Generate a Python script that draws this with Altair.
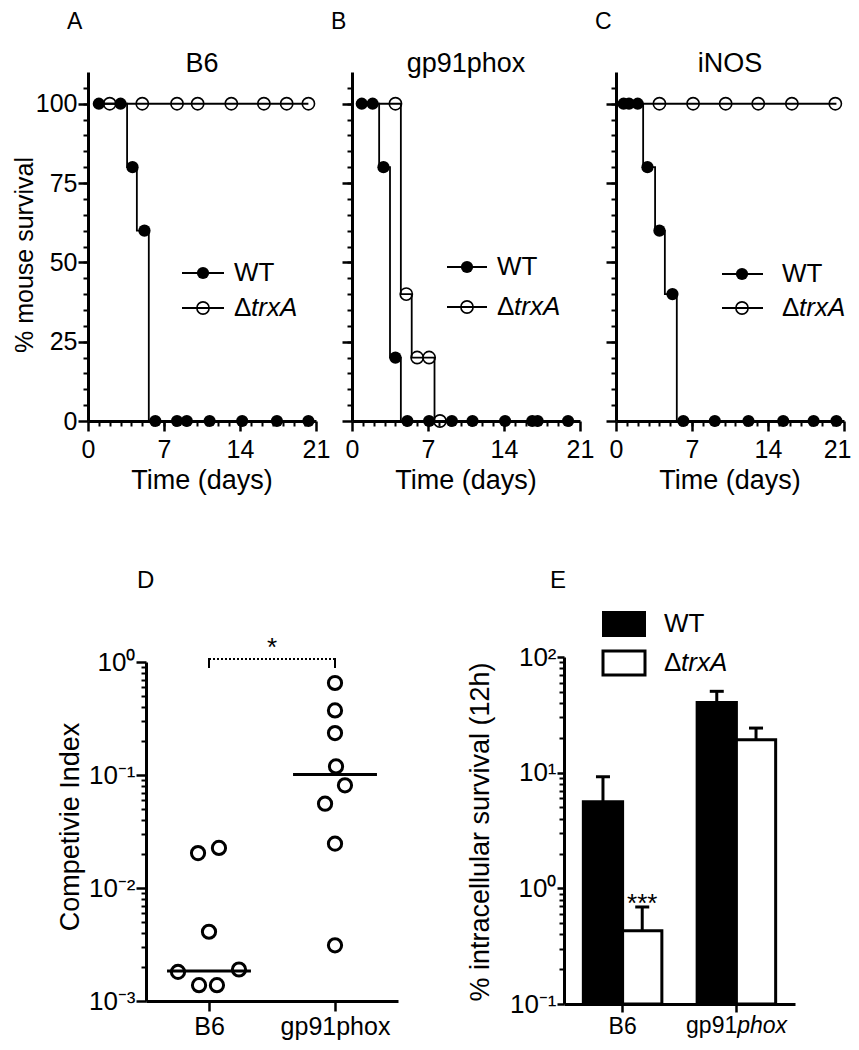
import json
import altair as alt
import pandas as pd

FONT = "Liberation Sans"
W, H = 756, 916

# ---------------- Panels A-C : survival curves (day, % survival) ----------------
a_wt_step_day = [1.0, 3.6, 4.5, 5.6, 20.3]
a_wt_step_surv = [100, 80, 60, 0, 0]
a_wt_day = [1.0, 3.0, 4.1, 5.2, 6.2, 8.2, 9.1, 11.2, 14.2, 17.4, 20.3]
a_wt_surv = [100, 100, 80, 60, 0, 0, 0, 0, 0, 0, 0]
a_ko_step_day = [1.0, 20.3]
a_ko_step_surv = [100, 100]
a_ko_day = [2.0, 5.0, 8.2, 10.1, 13.2, 16.2, 18.3, 20.3]
a_ko_surv = [100, 100, 100, 100, 100, 100, 100, 100]

b_wt_step_day = [0.9, 2.5, 3.5, 4.5, 19.9]
b_wt_step_surv = [100, 80, 20, 0, 0]
b_wt_day = [0.9, 1.9, 2.9, 4.0, 5.1, 7.1, 9.2, 11.1, 14.1, 16.6, 17.1, 19.9]
b_wt_surv = [100, 100, 80, 20, 0, 0, 0, 0, 0, 0, 0, 0]
b_ko_step_day = [1.0, 4.5, 5.5, 7.6, 8.1]
b_ko_step_surv = [100, 40, 20, 0, 0]
b_ko_day = [4.0, 5.0, 6.0, 7.1, 8.1]
b_ko_surv = [100, 40, 20, 20, 0]

c_wt_step_day = [0.7, 2.5, 3.6, 4.5, 5.6, 20.3]
c_wt_step_surv = [100, 80, 60, 40, 0, 0]
c_wt_day = [0.7, 1.2, 2.0, 2.9, 4.0, 5.2, 6.2, 9.1, 12.2, 15.4, 18.2, 20.3]
c_wt_surv = [100, 100, 100, 80, 60, 40, 0, 0, 0, 0, 0, 0]
c_ko_step_day = [0.7, 20.3]
c_ko_step_surv = [100, 100]
c_ko_day = [4.0, 7.1, 10.1, 13.1, 16.2, 20.2]
c_ko_surv = [100, 100, 100, 100, 100, 100]

km_titles = ["B6", "gp91phox", "iNOS"]
km_x_ticks = [0, 7, 14, 21]
km_y_ticks = [0, 25, 50, 75, 100]

# ---------------- Panel D : competitive index ----------------
d_groups = ["B6", "gp91phox"]
d_b6_ci = [0.0204, 0.0226, 0.0041, 0.00181, 0.0019, 0.00138, 0.00138]
d_b6_jitter = [-0.087, 0.079, 0.0, -0.246, 0.238, -0.079, 0.063]
d_gp_ci = [0.652, 0.373, 0.235, 0.119, 0.081, 0.0557, 0.0247, 0.00311]
d_gp_jitter = [0.0, 0.0, 0.0, 0.008, 0.079, -0.079, 0.0, 0.0]
d_median = [0.00184, 0.101]

# ---------------- Panel E : intracellular survival ----------------
e_cats = ["B6", "gp91phox"]
e_strains = ["WT", "ΔtrxA"]
e_group = ["B6", "B6", "gp91phox", "gp91phox"]
e_strain = ["WT", "ΔtrxA", "WT", "ΔtrxA"]
e_mean = [5.6, 0.43, 40.5, 19.3]
e_upper = [9.2, 0.69, 50.5, 24.3]
e_sig = ["", "***", "", ""]

ONE = pd.DataFrame({"k": [0]})


def axis(orient, offset, values, major=True, labels=False, size=25, expr=None,
         flush=False, flush_offset=0, pad=3, tick=10):
    kw = dict(orient=orient, offset=offset, values=values, title=None, grid=False,
              domain=major, domainColor="black", domainWidth=3,
              ticks=True, tickColor="black", tickWidth=2.5 if major else 2,
              tickSize=tick if major else 5,
              labels=labels, labelFont=FONT, labelFontSize=size, labelColor="black",
              labelPadding=pad, labelOverlap=False, labelFlush=flush, labelAngle=0)
    if flush:
        kw["labelFlushOffset"] = flush_offset
    if expr:
        kw["labelExpr"] = expr
    return alt.Axis(**kw)


def txt(s, x, y, size=26, align="center", baseline="alphabetic", angle=0, italic=False):
    return alt.Chart(ONE).mark_text(
        text=s, font=FONT, fontSize=size, align=align, baseline=baseline, angle=angle,
        color="black", fontStyle="italic" if italic else "normal"
    ).encode(x=alt.value(x), y=alt.value(y))


def hrule(x1, x2, y, w=1.8):
    return alt.Chart(ONE).mark_rule(color="black", strokeWidth=w).encode(
        x=alt.value(x1), x2=alt.value(x2), y=alt.value(y))


def dot(x, y, filled):
    if filled:
        m = alt.Chart(ONE).mark_point(shape="circle", filled=True, color="black", size=150, opacity=1)
    else:
        m = alt.Chart(ONE).mark_point(shape="circle", filled=False, color="black", size=150,
                                      strokeWidth=1.6, opacity=1)
    return m.encode(x=alt.value(x), y=alt.value(y))


def km_layers(sw, pw, sk, pk, x0, ylabels, flush=False):
    xs = alt.Scale(domain=[0, 21], range=[x0, x0 + 228], nice=False, zero=False)
    ys = alt.Scale(domain=[0, 110], range=[333, -16], nice=False, zero=False)
    offx = 333 - H
    xmaj = axis("bottom", offx, km_x_ticks, labels=True, flush=flush, flush_offset=7, pad=6)
    ymaj = axis("left", -x0, km_y_ticks, labels=ylabels, pad=1)
    xmin = axis("bottom", offx, list(range(1, 21)), major=False)
    ymin = axis("left", -x0, list(range(5, 106, 5)), major=False)
    d_sw = pd.DataFrame({"day": sw[0], "surv": sw[1]})
    d_sk = pd.DataFrame({"day": sk[0], "surv": sk[1]})
    d_pw = pd.DataFrame({"day": pw[0], "surv": pw[1]})
    d_pk = pd.DataFrame({"day": pk[0], "surv": pk[1]})
    l1 = alt.Chart(d_sw).mark_line(interpolate="step-after", color="black", strokeWidth=1.8).encode(
        x=alt.X("day:Q", scale=xs, axis=xmaj), y=alt.Y("surv:Q", scale=ys, axis=ymaj))
    l2 = alt.Chart(d_sk).mark_line(interpolate="step-after", color="black", strokeWidth=1.8).encode(
        x=alt.X("day:Q", scale=xs, axis=None), y=alt.Y("surv:Q", scale=ys, axis=None))
    p1 = alt.Chart(d_pw).mark_point(shape="circle", filled=True, color="black", size=150, opacity=1).encode(
        x=alt.X("day:Q", scale=xs, axis=xmin), y=alt.Y("surv:Q", scale=ys, axis=ymin))
    p2 = alt.Chart(d_pk).mark_point(shape="circle", filled=False, color="black", size=150,
                                    strokeWidth=1.6, opacity=1).encode(
        x=alt.X("day:Q", scale=xs, axis=None), y=alt.Y("surv:Q", scale=ys, axis=None))
    return [l1, l2, p1, p2]


def km_legend(xl1, xl2, xm, xt, yw, yk):
    return [hrule(xl1, xl2, yw), hrule(xl1, xl2, yk), dot(xm, yw, True), dot(xm, yk, False),
            txt("WT", xt, yw, 26, "left", "middle"),
            txt("Δ", xt, yk, 26, "left", "middle"),
            txt("trxA", xt + 17, yk, 26, "left", "middle", italic=True)]


layers = []
layers += km_layers((a_wt_step_day, a_wt_step_surv), (a_wt_day, a_wt_surv),
                    (a_ko_step_day, a_ko_step_surv), (a_ko_day, a_ko_surv), 0, True)
layers += km_layers((b_wt_step_day, b_wt_step_surv), (b_wt_day, b_wt_surv),
                    (b_ko_step_day, b_ko_step_surv), (b_ko_day, b_ko_surv), 264, False)
layers += km_layers((c_wt_step_day, c_wt_step_surv), (c_wt_day, c_wt_surv),
                    (c_ko_step_day, c_ko_step_surv), (c_ko_day, c_ko_surv), 528, False, flush=True)
layers += km_legend(94, 136, 115, 146, 185, 220)
layers += km_legend(359, 399, 379, 409, 179, 219)
layers += km_legend(634, 675, 654, 694, 186, 220)

for i, t in enumerate(km_titles):
    cx = 114 + 264 * i
    layers.append(txt(t, cx, -16, 27))
    layers.append(txt("Time (days)", cx, 401, 27))
layers.append(txt("% mouse survival", -63, 167, 25, angle=270, baseline="middle"))
layers.append(txt("A", -21, -59, 23, "left"))
layers.append(txt("B", 243, -59, 23, "left"))
layers.append(txt("C", 507, -59, 23, "left"))

# ---------------- Panel D ----------------
SUP = ("'10' + replace(replace(replace(replace(replace('' + round(log(datum.value) / LN10), "
       "'-', '⁻'), '0', '⁰'), '1', '¹'), '2', '²'), '3', '³')")
xD = alt.Scale(domain=[-0.5, 1.5], range=[58, 310], nice=False, zero=False)
yD = alt.Scale(type="log", domain=[0.001, 1], range=[913, 574], nice=False)
minor_D = [m * 10.0 ** e for e in (-3, -2, -1) for m in range(2, 10)]
d_df = pd.DataFrame({
    "group": [d_groups[0]] * len(d_b6_ci) + [d_groups[1]] * len(d_gp_ci),
    "jit": d_b6_jitter + d_gp_jitter,
    "ci": d_b6_ci + d_gp_ci,
})
grp_arr = json.dumps(d_groups)
d_pts = alt.Chart(d_df).transform_calculate(
    px=f"indexof({grp_arr}, datum.group) + datum.jit"
).mark_point(shape="circle", filled=False, color="black", size=175, strokeWidth=3, opacity=1).encode(
    x=alt.X("px:Q", scale=xD, axis=axis("bottom", 913 - H, [0, 1], labels=True, size=25, pad=3,
                                           expr=f"{grp_arr}[datum.value]")),
    y=alt.Y("ci:Q", scale=yD, axis=axis("left", -58, [0.001, 0.01, 0.1, 1], labels=True, size=26,
                                         pad=1, expr=SUP)))
d_med_df = pd.DataFrame({"group": d_groups, "med": d_median})
d_med = alt.Chart(d_med_df).transform_calculate(
    lo=f"indexof({grp_arr}, datum.group) - 0.333",
    hi=f"indexof({grp_arr}, datum.group) + 0.333",
).mark_rule(color="black", strokeWidth=3).encode(
    x=alt.X("lo:Q", scale=xD, axis=None), x2="hi:Q",
    y=alt.Y("med:Q", scale=yD, axis=axis("left", -58, minor_D, major=False)))
layers += [d_med, d_pts]
# significance bracket
layers.append(alt.Chart(ONE).mark_rule(color="black", strokeWidth=2, strokeDash=[2, 2]).encode(
    x=alt.value(121), x2=alt.value(247), y=alt.value(571)))
layers.append(alt.Chart(ONE).mark_rule(color="black", strokeWidth=2).encode(
    x=alt.value(121), y=alt.value(570), y2=alt.value(580)))
layers.append(alt.Chart(ONE).mark_rule(color="black", strokeWidth=2).encode(
    x=alt.value(247), y=alt.value(570), y2=alt.value(580)))
layers.append(txt("*", 184, 568, 26))
layers.append(txt("Competivie Index", -17, 739, 27, angle=270, baseline="middle"))
layers.append(txt("D", 49, 500, 24, "left"))

# ---------------- Panel E ----------------
xE = alt.Scale(domain=e_cats, range=[476, 707], paddingInner=0.31, paddingOuter=0.17)
oE = alt.Scale(domain=e_strains, paddingInner=0, paddingOuter=0)
yE = alt.Scale(type="log", domain=[0.1, 100], range=[916, 569], nice=False)
cE = alt.Scale(domain=e_strains, range=["black", "white"])
minor_E = [m * 10.0 ** e for e in (-1, 0, 1) for m in range(2, 10)]
e_df = pd.DataFrame({"group": e_group, "strain": e_strain, "mean": e_mean,
                     "upper": e_upper, "sig": e_sig})
e_bars = alt.Chart(e_df).mark_bar(stroke="black", strokeWidth=3).encode(
    x=alt.X("group:N", scale=xE, axis=axis("bottom", 0, e_cats, labels=True, size=23, pad=3, tick=8,
                                             expr="datum.value == 'B6' ? 'B6' : ''")),
    xOffset=alt.XOffset("strain:N", scale=oE),
    y=alt.Y("mean:Q", scale=yE, axis=axis("left", -476, [0.1, 1, 10, 100], labels=True, size=26,
                                          pad=1, tick=7, expr=SUP)),
    y2=alt.datum(0.1),
    color=alt.Color("strain:N", scale=cE, legend=None))
e_err = alt.Chart(e_df).mark_rule(color="black", strokeWidth=3).encode(
    x=alt.X("group:N", scale=xE, axis=None),
    xOffset=alt.XOffset("strain:N", scale=oE),
    y=alt.Y("mean:Q", scale=yE, axis=axis("left", -476, minor_E, major=False)),
    y2="upper:Q")
e_cap = alt.Chart(e_df).mark_tick(color="black", thickness=3, size=14, opacity=1).encode(
    x=alt.X("group:N", scale=xE, axis=None),
    xOffset=alt.XOffset("strain:N", scale=oE),
    y=alt.Y("upper:Q", scale=yE, axis=None))
e_star = alt.Chart(e_df).mark_text(font=FONT, fontSize=26, color="black", dy=-3).encode(
    x=alt.X("group:N", scale=xE, axis=None),
    xOffset=alt.XOffset("strain:N", scale=oE),
    y=alt.Y("upper:Q", scale=yE, axis=None),
    text="sig:N")
e_lab_df = pd.DataFrame({"group": [e_cats[1]], "roman": ["gp91"], "ital": ["phox"]})
e_lab1 = alt.Chart(e_lab_df).mark_text(font=FONT, fontSize=23, color="black", align="right",
                                       baseline="top").encode(
    x=alt.X("group:N", scale=xE, axis=None), y=alt.value(916 + 8 + 3), text="roman:N")
e_lab2 = alt.Chart(e_lab_df).mark_text(font=FONT, fontSize=23, color="black", align="left",
                                       baseline="top", fontStyle="italic").encode(
    x=alt.X("group:N", scale=xE, axis=None), y=alt.value(916 + 8 + 3), text="ital:N")
layers += [e_bars, e_err, e_cap, e_star, e_lab1, e_lab2]

# legend E
layers.append(alt.Chart(ONE).mark_rect(color="black").encode(
    x=alt.value(514), x2=alt.value(558), y=alt.value(523), y2=alt.value(549)))
layers.append(alt.Chart(ONE).mark_rect(fill="white", stroke="black", strokeWidth=3).encode(
    x=alt.value(515), x2=alt.value(557), y=alt.value(563), y2=alt.value(587)))
layers.append(txt("WT", 576, 536, 26, "left", "middle"))
layers.append(txt("Δ", 576, 575, 26, "left", "middle"))
layers.append(txt("trxA", 593, 575, 26, "left", "middle", italic=True))
layers.append(txt("% intracellular survival (12h)", 393, 744, 27, angle=270, baseline="middle"))
layers.append(txt("E", 462, 500, 24, "left"))

chart = alt.layer(*layers).resolve_scale(
    x="independent", y="independent"
).properties(
    width=W, height=H,
    padding={"left": 80, "top": 80, "right": 7, "bottom": 38},
    autosize=alt.AutoSizeParams(type="none"),
).configure_view(stroke=None).configure_axis(grid=False)

chart.save("out.html", embed_options={"renderer": "svg", "actions": False})
